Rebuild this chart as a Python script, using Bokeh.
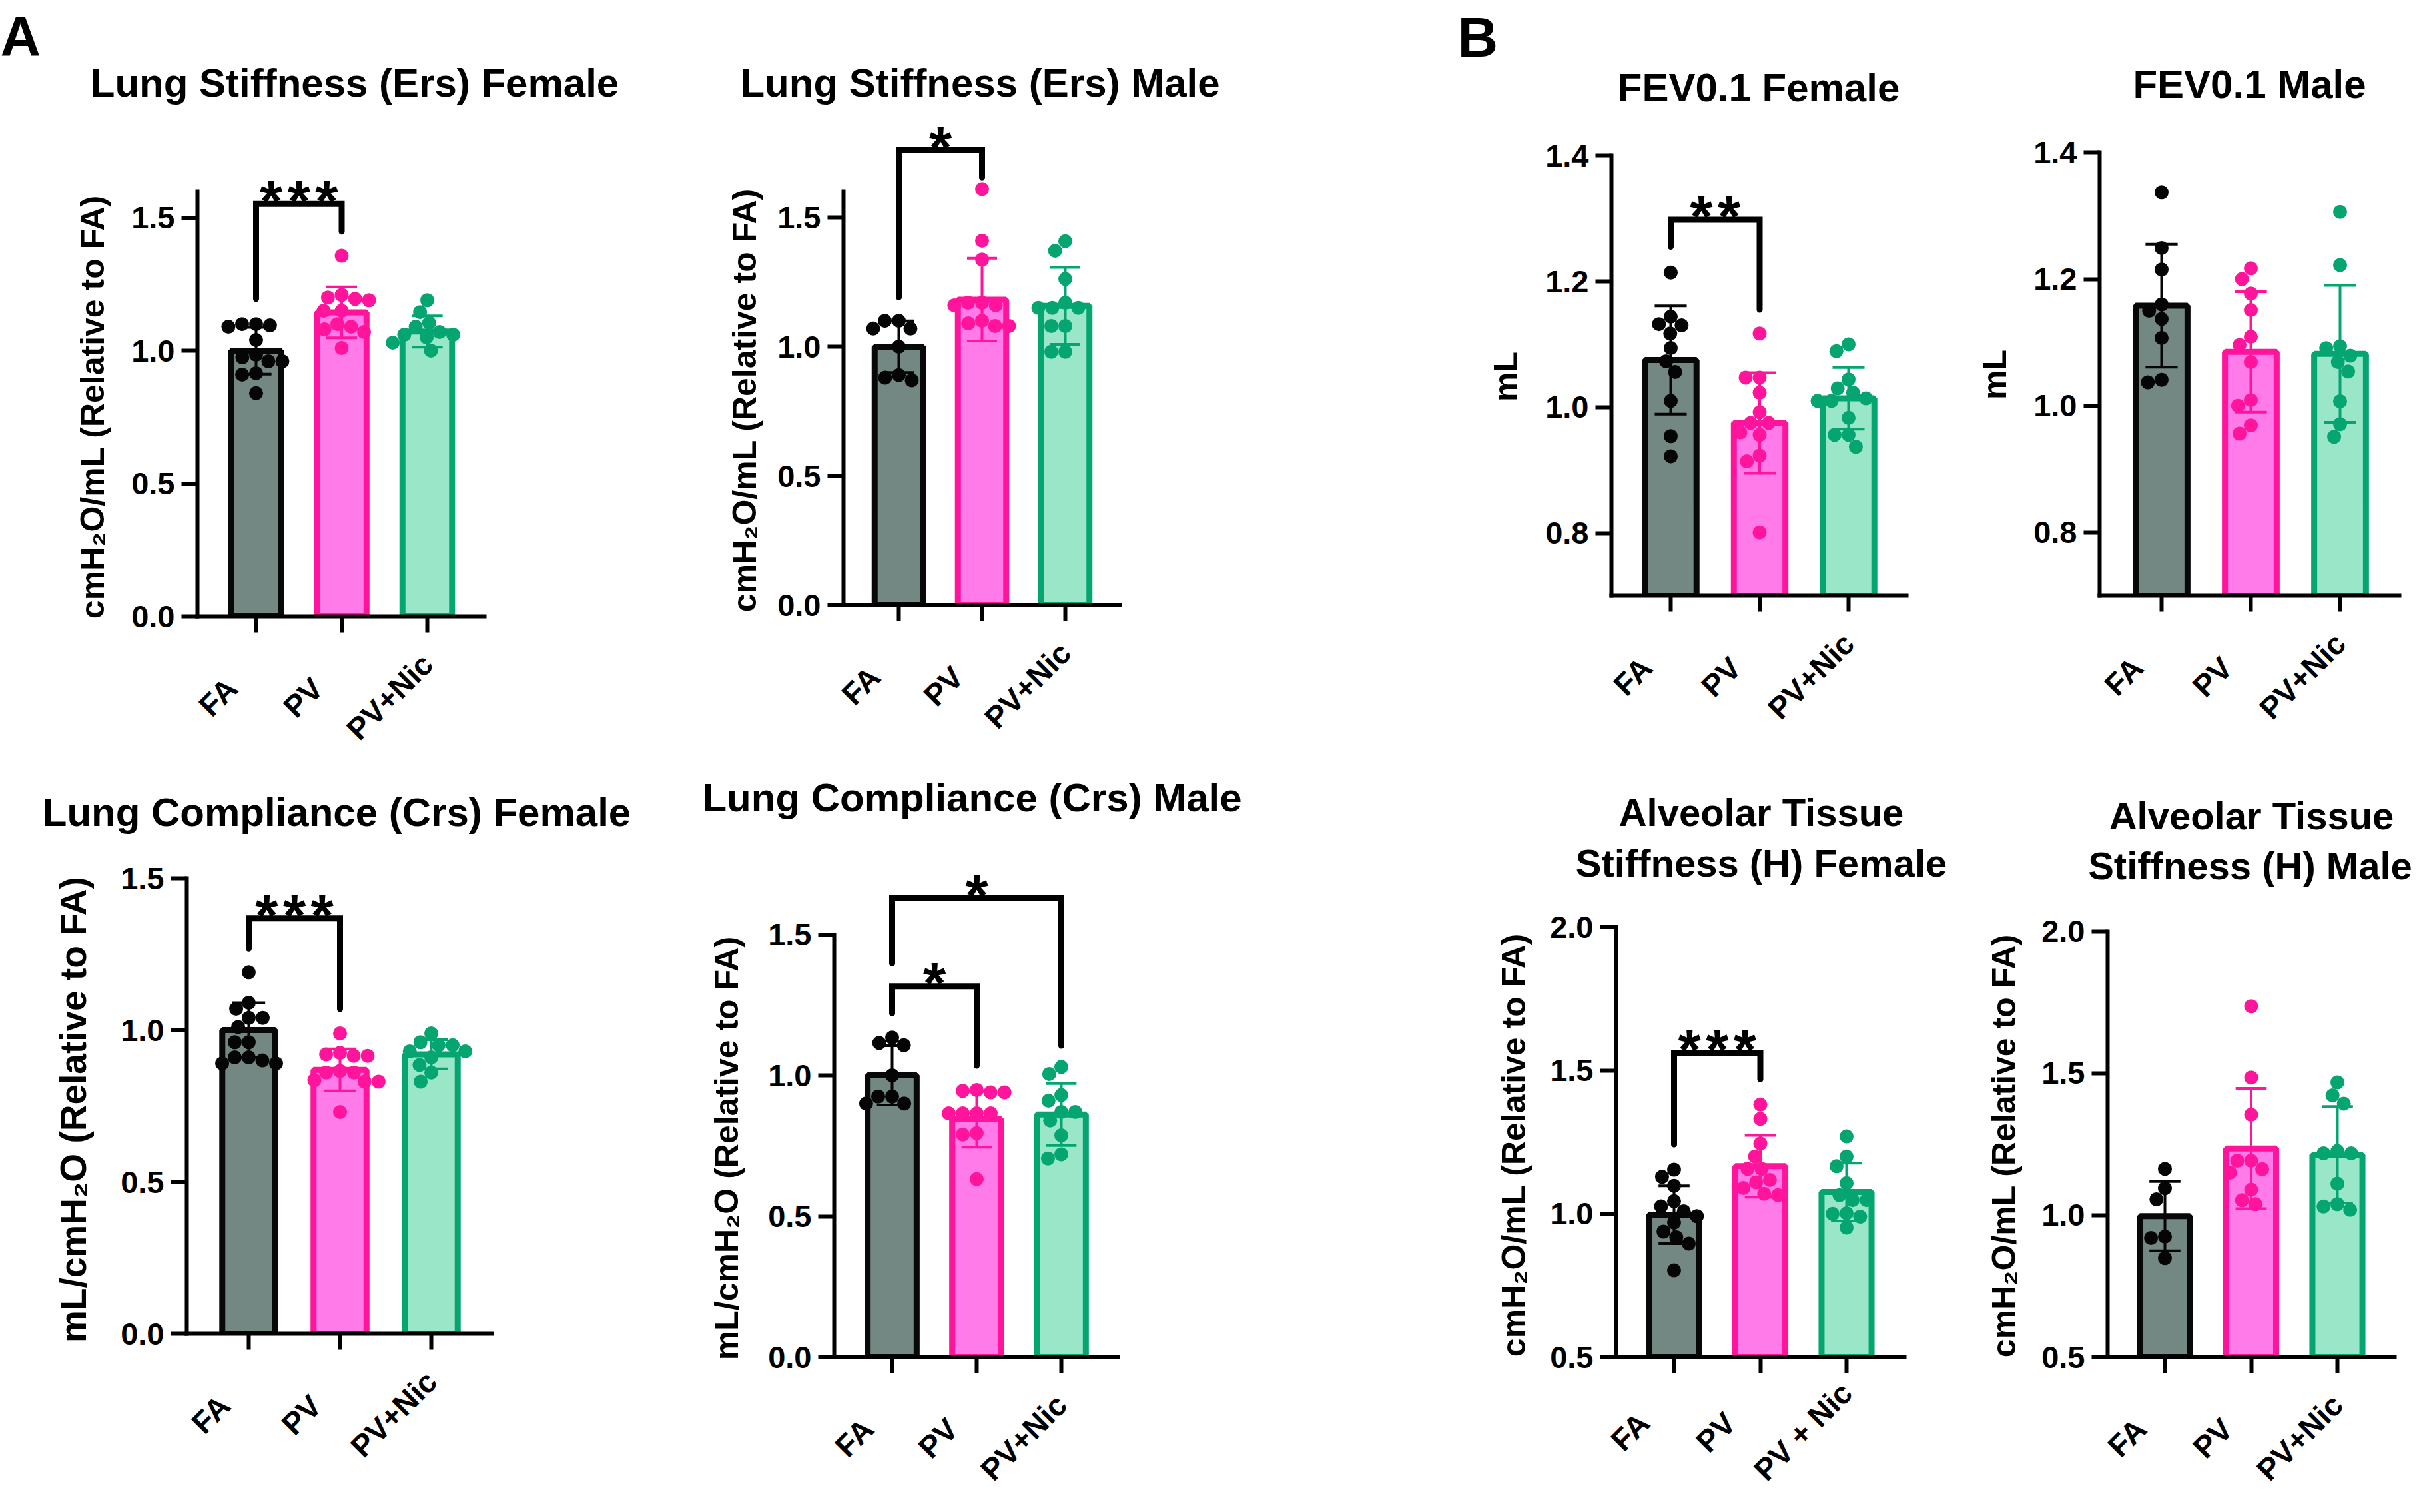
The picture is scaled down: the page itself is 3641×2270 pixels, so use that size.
import math
import numpy as np
from bokeh.plotting import figure
from bokeh.models import FixedTicker, PrintfTickFormatter, Label, Spacer, Range1d, Title
from bokeh.layouts import row, column
from bokeh.embed import file_html
from bokeh.resources import INLINE

# ---------------- data ----------------
groups = ["FA", "PV", "PV+Nic"]
groups_h_female = ["FA", "PV", "PV + Nic"]

ers_f_mean = [1.00, 1.144, 1.072]
ers_f_sd = [0.088, 0.096, 0.059]
ers_f_fa = [1.10, 1.10, 1.095, 1.09, 1.04, 0.985, 0.975, 0.96, 0.96, 0.915, 0.91, 0.84]
ers_f_pv = [1.357, 1.21, 1.20, 1.195, 1.19, 1.15, 1.15, 1.10, 1.09, 1.08, 1.07, 1.01]
ers_f_nic = [1.19, 1.145, 1.105, 1.09, 1.07, 1.06, 1.06, 1.05, 1.03, 1.00]

ers_m_mean = [1.00, 1.182, 1.158]
ers_m_sd = [0.10, 0.16, 0.149]
ers_m_fa = [1.10, 1.10, 1.07, 1.07, 1.00, 0.89, 0.88, 0.87]
ers_m_pv = [1.61, 1.41, 1.337, 1.17, 1.17, 1.16, 1.16, 1.10, 1.09, 1.08, 1.08]
ers_m_nic = [1.408, 1.371, 1.262, 1.17, 1.15, 1.15, 1.15, 1.08, 1.08, 0.98, 0.98]

fev_f_mean = [1.075, 0.975, 1.014]
fev_f_sd = [0.086, 0.080, 0.049]
fev_f_fa = [1.214, 1.144, 1.132, 1.13, 1.117, 1.094, 1.073, 1.056, 1.01, 0.954, 0.922]
fev_f_pv = [1.117, 1.047, 1.047, 1.023, 0.992, 0.975, 0.975, 0.96, 0.956, 0.923, 0.914, 0.801]
fev_f_nic = [1.10, 1.089, 1.044, 1.03, 1.023, 1.014, 1.01, 1.01, 0.983, 0.956, 0.956, 0.937]

fev_m_mean = [1.158, 1.085, 1.082]
fev_m_sd = [0.097, 0.095, 0.108]
fev_m_fa = [1.337, 1.249, 1.215, 1.16, 1.15, 1.137, 1.107, 1.041, 1.037]
fev_m_pv = [1.217, 1.20, 1.177, 1.151, 1.109, 1.096, 1.069, 1.009, 1.0, 0.969, 0.956]
fev_m_nic = [1.306, 1.222, 1.094, 1.091, 1.079, 1.069, 1.054, 1.007, 0.971, 0.951]

crs_f_mean = [1.00, 0.869, 0.920]
crs_f_sd = [0.090, 0.069, 0.048]
crs_f_fa = [1.19, 1.09, 1.07, 1.04, 1.04, 1.01, 0.96, 0.96, 0.91, 0.91, 0.90, 0.89, 0.89]
crs_f_pv = [0.989, 0.925, 0.92, 0.915, 0.915, 0.865, 0.86, 0.86, 0.835, 0.83, 0.83, 0.73]
crs_f_nic = [0.989, 0.96, 0.95, 0.95, 0.93, 0.93, 0.91, 0.885, 0.86, 0.83]

crs_m_mean = [1.00, 0.844, 0.861]
crs_m_sd = [0.105, 0.099, 0.110]
crs_m_fa = [1.134, 1.115, 1.107, 1.00, 0.925, 0.925, 0.90, 0.90]
crs_m_pv = [0.948, 0.945, 0.94, 0.94, 0.865, 0.865, 0.865, 0.865, 0.795, 0.79, 0.632]
crs_m_nic = [1.03, 1.005, 0.93, 0.91, 0.87, 0.87, 0.84, 0.787, 0.72, 0.705]

h_f_mean = [0.997, 1.166, 1.076]
h_f_sd = [0.101, 0.108, 0.101]
h_f_fa = [1.154, 1.129, 1.098, 1.044, 1.026, 1.009, 0.992, 0.97, 0.938, 0.918, 0.896, 0.803]
h_f_pv = [1.381, 1.331, 1.245, 1.20, 1.157, 1.157, 1.118, 1.11, 1.09, 1.07, 1.065]
h_f_nic = [1.27, 1.20, 1.166, 1.107, 1.065, 1.048, 1.048, 1.002, 1.0, 0.99, 0.952]

h_m_mean = [0.997, 1.235, 1.213]
h_m_sd = [0.122, 0.212, 0.170]
h_m_fa = [1.163, 1.095, 1.056, 0.925, 0.92, 0.849]
h_m_pv = [1.736, 1.485, 1.354, 1.192, 1.192, 1.162, 1.15, 1.09, 1.053, 1.039]
h_m_nic = [1.468, 1.422, 1.393, 1.226, 1.218, 1.218, 1.111, 1.039, 1.031, 1.019]

# significance: (group i, group j, bracket top, left leg end, right leg end, stars)
ers_f_sig = [(0, 1, 1.552, 1.195, 1.448, "***")]
ers_m_sig = [(0, 1, 1.761, 1.191, 1.655, "*")]
fev_f_sig = [(0, 1, 1.298, 1.255, 1.155, "**")]
crs_f_sig = [(0, 1, 1.368, 1.268, 1.069, "***")]
crs_m_sig = [(0, 1, 1.316, 1.220, 1.034, "*"), (0, 2, 1.629, 1.397, 1.105, "*")]
h_f_sig = [(0, 1, 1.562, 1.242, 1.469, "***")]

ylab_ers = "cmH\u2082O/mL (Relative to FA)"
ylab_crs = "mL/cmH\u2082O (Relative to FA)"
ylab_fev = "mL"

# ---------------- style ----------------
FONT = "Liberation Sans"
FILL = ["#738783", "#FF7BEA", "#99E6C8"]
EDGE = ["#080808", "#FF149B", "#05A572"]
DOT = ["#050505", "#FF149B", "#05A572"]
DOT_D = 21
TICK_FS = 47
XLAB_FS = 46
TICK_OUT = 24
YL_STAND = 10
NBSP = "\u00a0"
BASE_K = 0.27      # empirical shift of the alphabetic baseline of Label text
STAR_FS = 88
LETTER_FS = 84

# approximate advance widths (em) of Liberation Sans Bold, used to centre the y labels
EM = {'c': .556, 'm': .889, 'H': .722, '\u2082': .45, 'O': .778, '/': .278, 'L': .611, ' ': .278,
      '(': .333, 'R': .722, 'e': .556, 'l': .278, 'a': .556, 't': .333, 'i': .278, 'v': .556,
      'o': .611, 'F': .611, 'A': .722, ')': .333}


def text_len(s, size):
    return sum(EM.get(ch, 0.55) for ch in s) * size


# panel geometry, in reference pixel coordinates
# box=(x0, x1, row_top, row_bottom), ys = split between title strip and plot
panels = [
    dict(box=(8, 960, 8, 1150), ys=168, L=304, R=735, c0=392, s=128.5, B=934, ppu=399.5,
         ymin=0.0, ymax=1.6, yticks=[0.0, 0.5, 1.0, 1.5], ylabel=ylab_ers, yl_fs=50, yl_c=618, yl_edge=177,
         titles=[("Lung Stiffness (Ers) Female", 540, 148)], tsize=60, letter=("A", 8, 85),
         cats=groups, xl_stand=40, pad=4,
         mean=ers_f_mean, sd=ers_f_sd, pts=[ers_f_fa, ers_f_pv, ers_f_nic], sig=ers_f_sig),
    dict(box=(960, 1920, 8, 1150), ys=168, L=1274, R=1689, c0=1357, s=125, B=916, ppu=388,
         ymin=0.0, ymax=1.6, yticks=[0.0, 0.5, 1.0, 1.5], ylabel=ylab_ers, yl_fs=50, yl_c=607, yl_edge=1156,
         titles=[("Lung Stiffness (Ers) Male", 1479, 148)], tsize=60, letter=None,
         cats=groups, xl_stand=40, pad=4,
         mean=ers_m_mean, sd=ers_m_sd, pts=[ers_m_fa, ers_m_pv, ers_m_nic], sig=ers_m_sig),
    dict(box=(2150, 2900, 8, 1150), ys=172, L=2427, R=2870, c0=2516, s=133.5, B=902, ppu=944,
         ymin=0.7, ymax=1.4, yticks=[0.8, 1.0, 1.2, 1.4], ylabel=ylab_fev, yl_fs=50, yl_c=573, yl_edge=2299,
         titles=[("FEV0.1 Female", 2648, 155)], tsize=60, letter=("B", 2196, 86),
         cats=groups, xl_stand=40, pad=4,
         mean=fev_f_mean, sd=fev_f_sd, pts=[fev_f_fa, fev_f_pv, fev_f_nic], sig=fev_f_sig),
    dict(box=(2900, 3633, 8, 1150), ys=168, L=3160, R=3610, c0=3253, s=134, B=902, ppu=951,
         ymin=0.7, ymax=1.4, yticks=[0.8, 1.0, 1.2, 1.4], ylabel=ylab_fev, yl_fs=50, yl_c=570, yl_edge=3033,
         titles=[("FEV0.1 Male", 3385, 150)], tsize=60, letter=None,
         cats=groups, xl_stand=40, pad=4,
         mean=fev_m_mean, sd=fev_m_sd, pts=[fev_m_fa, fev_m_pv, fev_m_nic], sig=[]),
    dict(box=(8, 960, 1150, 2262), ys=1262, L=288, R=746, c0=381, s=137, B=2010, ppu=456,
         ymin=0.0, ymax=1.5, yticks=[0.0, 0.5, 1.0, 1.5], ylabel=ylab_crs, yl_fs=55, yl_c=1672, yl_edge=151,
         titles=[("Lung Compliance (Crs) Female", 513, 1243)], tsize=60, letter=None,
         cats=groups, xl_stand=40, pad=4,
         mean=crs_f_mean, sd=crs_f_sd, pts=[crs_f_fa, crs_f_pv, crs_f_nic], sig=crs_f_sig),
    dict(box=(960, 1920, 1150, 2262), ys=1238, L=1260, R=1686, c0=1347, s=127, B=2045, ppu=423,
         ymin=0.0, ymax=1.5, yticks=[0.0, 0.5, 1.0, 1.5], ylabel=ylab_crs, yl_fs=50, yl_c=1730, yl_edge=1129,
         titles=[("Lung Compliance (Crs) Male", 1467, 1221)], tsize=60, letter=None,
         cats=groups, xl_stand=40, pad=4,
         mean=crs_m_mean, sd=crs_m_sd, pts=[crs_m_fa, crs_m_pv, crs_m_nic], sig=crs_m_sig),
    dict(box=(2150, 2950, 1150, 2262), ys=1336, L=2434, R=2867, c0=2521, s=129.5, B=2046, ppu=431,
         ymin=0.5, ymax=2.0, yticks=[0.5, 1.0, 1.5, 2.0], ylabel=ylab_ers, yl_fs=50, yl_c=1726, yl_edge=2311,
         titles=[("Alveolar Tissue", 2652, 1243), ("Stiffness (H) Female", 2652, 1319)], tsize=58, letter=None,
         cats=groups_h_female, xl_stand=22, pad=5,
         mean=h_f_mean, sd=h_f_sd, pts=[h_f_fa, h_f_pv, h_f_nic], sig=h_f_sig),
    dict(box=(2950, 3633, 1150, 2262), ys=1340, L=3172, R=3603, c0=3258, s=129.5, B=2048, ppu=428,
         ymin=0.5, ymax=2.0, yticks=[0.5, 1.0, 1.5, 2.0], ylabel=ylab_ers, yl_fs=50, yl_c=1729, yl_edge=3047,
         titles=[("Alveolar Tissue", 3388, 1248), ("Stiffness (H) Male", 3386, 1323)], tsize=58, letter=None,
         cats=groups, xl_stand=40, pad=4,
         mean=h_m_mean, sd=h_m_sd, pts=[h_m_fa, h_m_pv, h_m_nic], sig=[]),
]


def swarm_offsets(vals, ppu, s, d=DOT_D):
    """Simple beeswarm: x offsets (data units) so that dots do not overlap."""
    vals = np.asarray(vals, dtype=float)
    order = np.argsort(-vals, kind="stable")
    placed = []
    offs = np.zeros(len(vals))
    for idx in order:
        y = vals[idx] * ppu
        forb = []
        for (px, py) in placed:
            dy = abs(py - y)
            if dy < d:
                hw = math.sqrt(d * d - dy * dy)
                forb.append((px - hw, px + hw))
        cands = [0.0] + [a for f in forb for a in f]
        cands.sort(key=lambda c: (round(abs(c), 6), c))
        chosen = 0.0
        for c in cands:
            if all(not (a + 1e-6 < c < b - 1e-6) for a, b in forb):
                chosen = c
                break
        placed.append((chosen, y))
        offs[idx] = chosen / s
    return offs


def text_strip(sp):
    x0, x1, r0, r1 = sp["box"]
    w, h = x1 - x0, sp["ys"] - r0
    t = figure(width=w, height=h, output_backend="svg", toolbar_location=None,
               x_axis_type=None, y_axis_type=None, x_range=Range1d(0, w), y_range=Range1d(0, h),
               min_border=0)
    t.outline_line_color = None
    t.background_fill_color = "white"
    t.border_fill_color = "white"
    for (txt, cx, base) in sp["titles"]:
        t.add_layout(Label(x=cx - x0, y=sp["ys"] - base + BASE_K * sp["tsize"], text=txt, text_font=FONT,
                           text_font_style="bold", text_font_size="%dpx" % sp["tsize"],
                           text_align="center", text_baseline="alphabetic", text_color="black"))
    if sp["letter"]:
        txt, lx, base = sp["letter"]
        t.add_layout(Label(x=lx - x0, y=sp["ys"] - base + BASE_K * LETTER_FS, text=txt, text_font=FONT,
                           text_font_style="bold", text_font_size="%dpx" % LETTER_FS,
                           text_align="left", text_baseline="alphabetic", text_color="black"))
    return t


def plot_panel(sp):
    x0, x1, r0, r1 = sp["box"]
    L, R, B, c0, s, ppu = sp["L"], sp["R"], sp["B"], sp["c0"], sp["s"], sp["ppu"]
    ymin = sp["ymin"]
    top_gap = 4
    Ft = sp["ys"] + top_gap
    yend = ymin + (B - Ft) / ppu
    p = figure(width=x1 - x0, height=r1 - sp["ys"], output_backend="svg", toolbar_location=None,
               x_range=Range1d((L - c0) / s, (R - c0) / s), y_range=Range1d(ymin, yend),
               min_border_left=L - x0, min_border_right=x1 - R,
               min_border_top=top_gap, min_border_bottom=r1 - B)
    p.outline_line_color = None
    p.background_fill_color = "white"
    p.border_fill_color = "white"
    p.xgrid.visible = False
    p.ygrid.visible = False

    pad = NBSP * sp["pad"]
    p.xaxis.ticker = FixedTicker(ticks=[0, 1, 2])
    p.xaxis.major_label_overrides = {i: (name + pad if len(name) <= 2 else name)
                                     for i, name in enumerate(sp["cats"])}
    p.xaxis.major_label_orientation = math.pi / 4
    p.xaxis.major_label_standoff = sp["xl_stand"]
    p.xaxis.major_label_text_font_size = "%dpx" % XLAB_FS
    p.yaxis.ticker = FixedTicker(ticks=sp["yticks"])
    p.yaxis.formatter = PrintfTickFormatter(format="%.1f")
    p.yaxis.bounds = (ymin, sp["ymax"])
    p.yaxis.major_label_standoff = YL_STAND
    p.yaxis.major_label_text_font_size = "%dpx" % TICK_FS
    for ax in (p.xaxis[0], p.yaxis[0]):
        ax.axis_line_width = 6
        ax.axis_line_color = "black"
        ax.axis_line_cap = "square"
        ax.major_tick_line_width = 6
        ax.major_tick_line_color = "black"
        ax.major_tick_out = TICK_OUT
        ax.major_tick_in = 0
        ax.minor_tick_line_color = None
        ax.major_label_text_font = FONT
        ax.major_label_text_font_style = "bold"
        ax.major_label_text_color = "black"

    # y axis title, placed to the left of the axis and centred on the axis line
    axis_w = TICK_OUT + YL_STAND + 3 * 0.4633 * TICK_FS
    standoff = max(0.0, 2 * (L - axis_w - sp["yl_edge"]))
    ln = text_len(sp["ylabel"], sp["yl_fs"])
    offset = B - (sp["yl_c"] + ln / 2)
    p.add_layout(Title(text=sp["ylabel"], align="left", offset=offset, standoff=standoff,
                       text_font=FONT, text_font_style="bold", text_font_size="%dpx" % sp["yl_fs"],
                       text_color="black"), "left")

    xs = [0, 1, 2]
    p.vbar(x=xs, width=0.58, bottom=ymin, top=sp["mean"], fill_color=FILL,
           line_color=EDGE, line_width=9)

    for i, vals in enumerate(sp["pts"]):
        offs = swarm_offsets(vals, ppu, s)
        p.scatter(x=list(i + offs), y=vals, size=DOT_D, fill_color=DOT[i], line_color=None)

    cap = 0.18
    for i in range(3):
        m, sd = sp["mean"][i], sp["sd"][i]
        p.segment(x0=[i, i - cap, i - cap], y0=[m - sd, m + sd, m - sd],
                  x1=[i, i + cap, i + cap], y1=[m + sd, m + sd, m - sd],
                  line_color=DOT[i], line_width=4)

    for (i, j, top, leg_i, leg_j, stars) in sp["sig"]:
        p.multi_line(xs=[[i, i, j, j]], ys=[[leg_i, top, top, leg_j]], line_color="black",
                     line_width=9, line_cap="round", line_join="miter")
        p.add_layout(Label(x=(i + j) / 2, y=top, y_offset=5, text="\u200a".join(stars),
                           text_font=FONT, text_font_style="bold", text_font_size="%dpx" % STAR_FS,
                           text_align="center", text_baseline="alphabetic", text_color="black"))
    return p


cols = []
for sp in panels:
    cols.append(column(column(text_strip(sp)), column(plot_panel(sp))))

row1 = row(cols[0], cols[1], Spacer(width=230, height=1142), cols[2], cols[3])
row2 = row(cols[4], cols[5], Spacer(width=230, height=1112), cols[6], cols[7])
layout = column(row1, row2)

open("out.html", "w").write(file_html(layout, INLINE))
